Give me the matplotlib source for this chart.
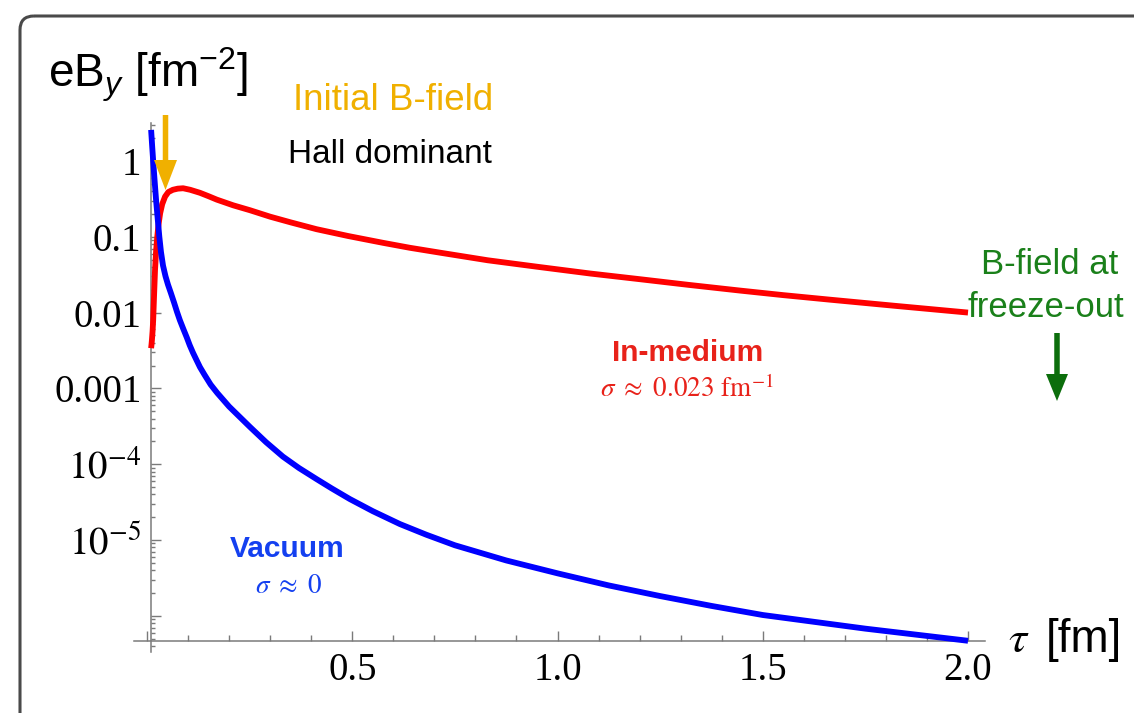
import matplotlib
matplotlib.use("Agg")
import matplotlib.pyplot as plt
import matplotlib.transforms as mtransforms
from matplotlib.patches import FancyArrow, FancyBboxPatch
from matplotlib.ticker import FixedLocator, NullFormatter

plt.rcParams["font.family"] = ["Liberation Sans", "DejaVu Sans"]
plt.rcParams["mathtext.fontset"] = "custom"
plt.rcParams["mathtext.rm"] = "Liberation Sans"
plt.rcParams["mathtext.it"] = "Liberation Sans:italic"
plt.rcParams["mathtext.bf"] = "Liberation Sans:bold"

# proper time tau [fm] and log10 of the field strength eB_y [fm^-2]
# vacuum evolution (sigma ~ 0)
tau_vacuum = [0.010, 0.0125, 0.015, 0.0185, 0.022, 0.026, 0.030, 0.034, 0.039,
              0.045, 0.051, 0.058, 0.066, 0.073, 0.080, 0.088, 0.097, 0.104,
              0.112, 0.120, 0.129, 0.140, 0.155, 0.171, 0.200, 0.251, 0.290,
              0.331, 0.370, 0.414, 0.450, 0.494, 0.550, 0.616, 0.680, 0.750,
              0.875, 1.000, 1.125, 1.250, 1.375, 1.500, 1.625, 1.750, 1.875,
              2.000]
log_eb_vacuum = [0.41, 0.20, 0.00, -0.26, -0.51, -0.76, -1.00, -1.20, -1.38,
                 -1.52, -1.63, -1.74, -1.87, -1.99, -2.10, -2.21, -2.33, -2.43,
                 -2.53, -2.62, -2.72, -2.82, -2.95, -3.06, -3.24, -3.51, -3.71,
                 -3.90, -4.05, -4.20, -4.32, -4.46, -4.62, -4.79, -4.93, -5.07,
                 -5.27, -5.44, -5.60, -5.74, -5.87, -5.99, -6.08, -6.17, -6.25,
                 -6.33]

# in-medium evolution (sigma ~ 0.023 fm^-1)
tau_medium = [0.010, 0.011, 0.012, 0.0135, 0.015, 0.017, 0.0195, 0.022, 0.025,
              0.028, 0.032, 0.037, 0.044, 0.052, 0.063, 0.075, 0.088, 0.105,
              0.129, 0.150, 0.170, 0.210, 0.251, 0.300, 0.350, 0.413, 0.490,
              0.575, 0.640, 0.714, 0.830, 0.957, 1.080, 1.201, 1.320, 1.445,
              1.550, 1.664, 1.830, 2.000]
log_eb_medium = [-2.47, -2.42, -2.36, -2.25, -2.10, -1.80, -1.44, -1.20, -1.00,
                 -0.84, -0.69, -0.57, -0.47, -0.41, -0.38, -0.365, -0.36, -0.38,
                 -0.42, -0.465, -0.51, -0.585, -0.65, -0.735, -0.81, -0.90,
                 -0.99, -1.08, -1.145, -1.21, -1.31, -1.40, -1.485, -1.56,
                 -1.635, -1.71, -1.77, -1.83, -1.915, -2.00]

eb_vacuum = [10.0 ** v for v in log_eb_vacuum]
eb_medium = [10.0 ** v for v in log_eb_medium]

x_major = [0.0, 0.5, 1.0, 1.5, 2.0]
x_major_labels = ["", "0.5", "1.0", "1.5", "2.0"]
x_minor = [0.1, 0.2, 0.3, 0.4, 0.6, 0.7, 0.8, 0.9, 1.1, 1.2, 1.3, 1.4,
           1.6, 1.7, 1.8, 1.9]
y_major = [1e-6, 1e-5, 1e-4, 1e-3, 1e-2, 1e-1, 1.0]
y_major_labels = ["", r"$10^{-5}$", r"$10^{-4}$", "0.001", "0.01", "0.1", "1"]

W, H = 1134, 713
fig = plt.figure(figsize=(W / 100, H / 100), dpi=100)
fig.patch.set_facecolor("white")

# pixel coordinates measured from the top-left corner
px = mtransforms.Affine2D().scale(1, -1).translate(0, H)

frame = FancyBboxPatch((20, 16), 1300, 900, boxstyle="round,pad=0,rounding_size=14",
                       transform=px, facecolor="none", edgecolor="#4a4a4a",
                       linewidth=2.2)
fig.add_artist(frame)

ax = fig.add_axes([134 / W, 1 - 652 / H, (985 - 134) / W, (652 - 123) / H])
ax.set_xlim(-0.0317, 2.0414)
ax.set_yscale("log")
ax.set_ylim(10 ** -6.478, 10 ** 0.501)
ax.patch.set_alpha(0)

for s in ("top", "right"):
    ax.spines[s].set_visible(False)
axis_col = "#7a7a7a"
ax.spines["left"].set_position(("data", 0.01))
ax.spines["bottom"].set_position(("data", 10 ** -6.332))
for s in ("left", "bottom"):
    ax.spines[s].set_color(axis_col)
    ax.spines[s].set_linewidth(1.1)

ax.plot(tau_medium, eb_medium, color="#ff0000", lw=4.2, solid_capstyle="butt",
        solid_joinstyle="round", clip_on=False, zorder=3)
ax.plot(tau_vacuum, eb_vacuum, color="#0000ff", lw=4.2, solid_capstyle="butt",
        solid_joinstyle="round", clip_on=False, zorder=4)

serif = "Liberation Serif"
ax.xaxis.set_major_locator(FixedLocator(x_major))
ax.xaxis.set_minor_locator(FixedLocator(x_minor))
ax.set_xticklabels(x_major_labels, fontfamily=serif, fontsize=28)
ax.xaxis.set_minor_formatter(NullFormatter())

ax.yaxis.set_major_locator(FixedLocator(y_major))
y_minor = [m * 10.0 ** e for e in range(-7, 1) for m in range(2, 10)
           if 10 ** -6.478 < m * 10.0 ** e < 10 ** 0.501]
ax.yaxis.set_minor_locator(FixedLocator(y_minor))
ax.set_yticklabels(y_major_labels, fontfamily=serif, fontsize=28,
                   math_fontfamily="stix")
ax.yaxis.set_minor_formatter(NullFormatter())

ax.tick_params(axis="both", which="both", direction="in", color=axis_col,
               width=1.0, labelcolor="black")
ax.tick_params(axis="x", which="major", length=7, pad=8)
ax.tick_params(axis="x", which="minor", length=4.5)
ax.tick_params(axis="y", which="major", length=7, pad=7)
ax.tick_params(axis="y", which="minor", length=3)


def label(x, y, s, **kw):
    fig.text(x / W, 1 - y / H, s, **kw)


label(48, 88, r"eB$_{y}$ [fm$^{-2}$]", fontsize=33, ha="left", va="baseline")
label(1008, 652, r"$\tau$", fontsize=33, ha="left", va="baseline",
      math_fontfamily="stix")
label(1046, 652, "[fm]", fontsize=33, ha="left", va="baseline")

orange = "#f0b000"
green = "#1a801a"
label(393, 110, "Initial B-field", fontsize=26.5, color=orange, ha="center",
      va="baseline")
label(390, 163, "Hall dominant", fontsize=24, color="black", ha="center",
      va="baseline")
label(1050, 274, "B-field at", fontsize=25, color=green, ha="center",
      va="baseline")
label(1046, 317, "freeze-out", fontsize=25, color=green, ha="center",
      va="baseline")
label(688, 361, "In-medium", fontsize=21.5, fontweight="bold", color="#e8221a",
      ha="center", va="baseline")
label(687, 397, r"$\sigma\ \approx\ 0.023\ \mathrm{fm}^{-1}$", fontsize=19.5,
      color="#e8221a", ha="center", va="baseline", math_fontfamily="stix")
label(287, 557, "Vacuum", fontsize=21.5, fontweight="bold", color="#1440f0",
      ha="center", va="baseline")
label(289, 593, r"$\sigma\ \approx\ 0$", fontsize=19.5, color="#1440f0",
      ha="center", va="baseline", math_fontfamily="stix")

fig.add_artist(FancyArrow(165.5, 115, 0, 75, width=5.5, head_width=23,
                          head_length=30, length_includes_head=True,
                          transform=px, color=orange, linewidth=0))
fig.add_artist(FancyArrow(1057, 333, 0, 68, width=5.5, head_width=22,
                          head_length=27, length_includes_head=True,
                          transform=px, color="#0c6e0c", linewidth=0))

fig.savefig("out.png", dpi=100)
